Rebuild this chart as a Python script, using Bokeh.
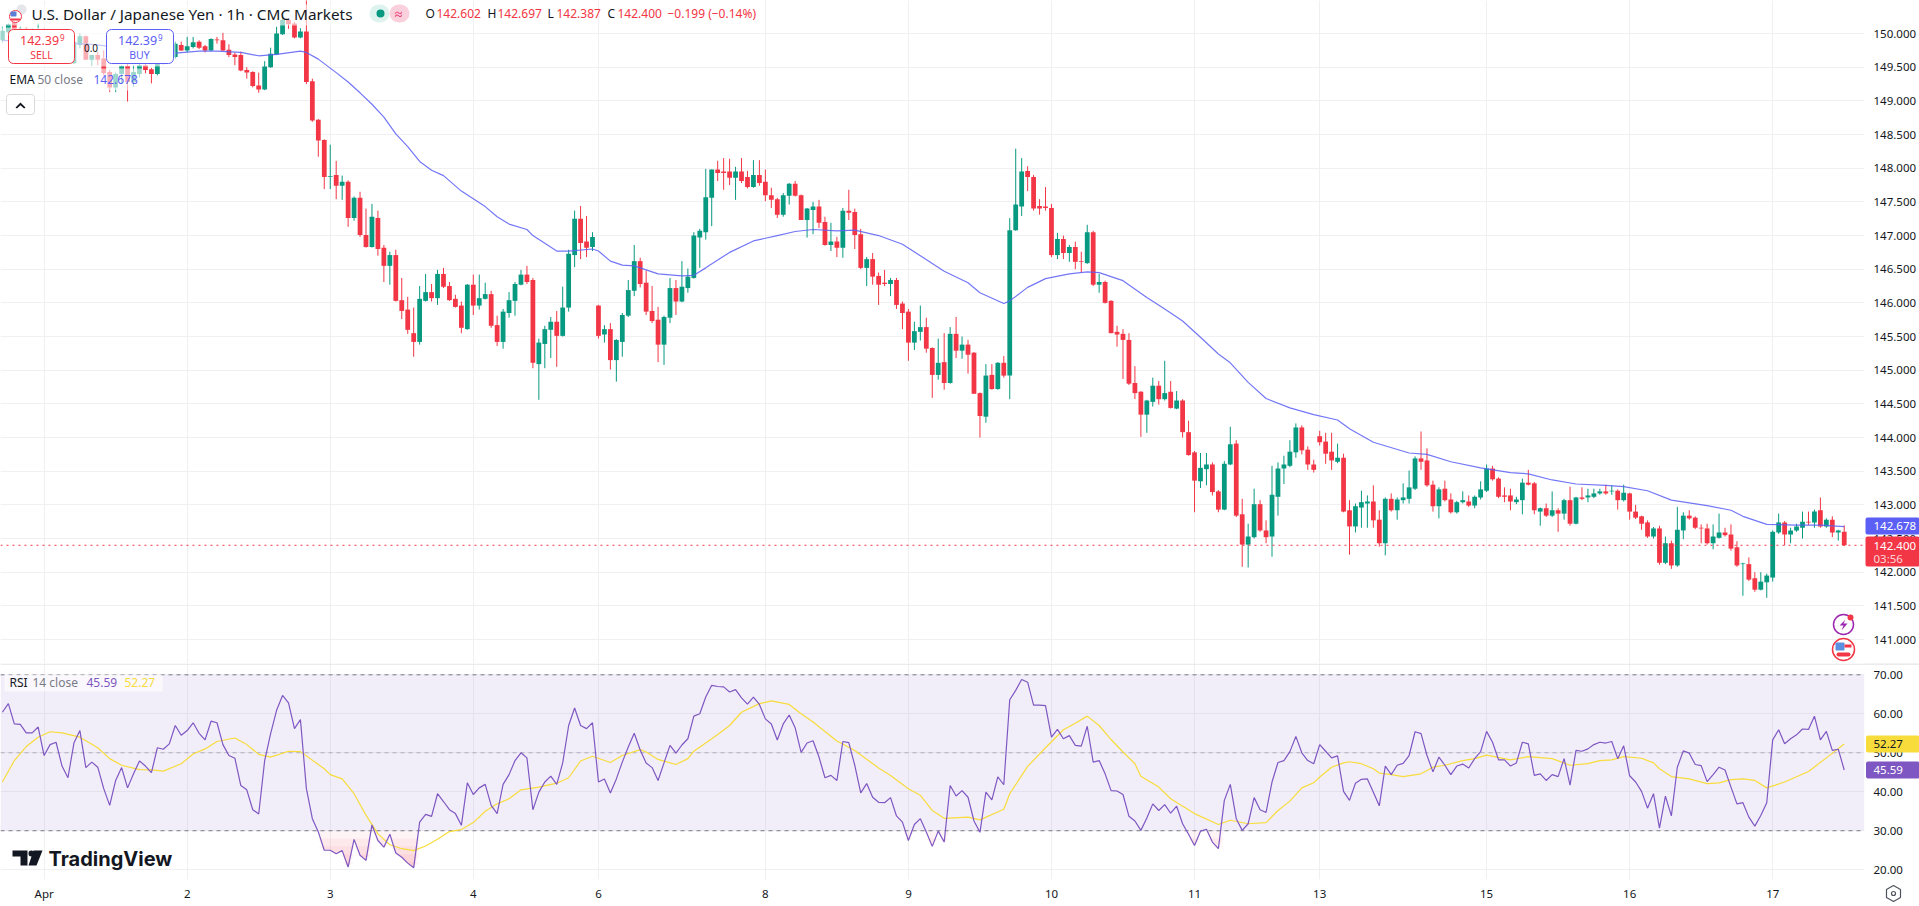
from bokeh.plotting import figure
from bokeh.layouts import column
from bokeh.models import Range1d, FixedTicker, Label, BoxAnnotation, PolyAnnotation, NumeralTickFormatter
from bokeh.embed import file_html
from bokeh.resources import INLINE
import numpy as np

opens = [
149.90,150.02,150.17,150.03,150.07,149.98,150.04,150.06,149.93,149.85,
149.92,149.78,149.56,149.83,149.96,149.61,149.68,149.63,149.43,149.20,
149.40,149.52,149.28,149.40,149.53,149.47,149.40,149.56,149.68,149.65,
149.83,149.75,149.80,149.88,149.81,149.75,149.91,149.90,149.76,149.69,
149.68,149.46,149.43,149.23,149.17,149.50,149.69,149.99,150.20,150.15,
149.94,150.03,149.29,148.72,148.42,147.87,147.90,147.74,147.80,147.26,
147.56,147.01,146.83,147.26,146.82,146.55,146.71,146.04,145.90,145.55,
145.42,146.03,146.16,146.07,146.43,146.25,146.06,145.96,145.61,146.27,
145.96,146.06,146.13,145.67,145.42,145.85,146.03,146.27,146.42,146.34,
145.09,145.39,145.60,145.72,145.51,145.93,146.71,147.25,146.91,146.83,
145.96,145.53,145.61,145.15,145.42,145.81,146.18,146.62,146.30,145.88,
145.75,145.38,145.78,146.22,146.02,146.22,146.37,146.97,147.05,147.56,
147.98,147.95,147.95,147.86,147.95,147.87,147.72,147.90,147.80,147.60,
147.54,147.31,147.59,147.77,147.60,147.23,147.38,147.43,147.20,146.86,
146.91,146.82,147.37,147.35,147.02,146.52,146.65,146.40,146.30,146.28,
146.34,145.99,145.87,145.41,145.57,145.64,145.33,144.93,145.12,144.81,
145.54,145.29,145.38,145.26,144.66,144.31,144.93,144.72,145.11,144.92,
147.08,147.43,147.96,147.87,147.44,147.43,147.41,146.71,146.95,146.74,
146.83,146.62,146.59,147.05,146.27,146.31,146.03,145.57,145.54,145.45,
144.81,144.68,144.34,144.53,144.77,144.57,144.68,144.43,144.55,144.08,
143.78,143.35,143.53,143.60,143.20,142.93,143.60,143.91,142.86,142.41,
142.52,143.01,142.62,142.53,143.12,143.54,143.58,143.78,144.15,143.82,
143.60,144.02,143.94,143.79,143.64,143.70,142.92,142.68,142.96,143.02,
143.05,142.78,142.43,143.09,142.92,143.07,143.09,143.24,143.69,143.66,
143.30,142.98,143.24,143.08,142.89,143.04,143.05,142.99,143.11,143.21,
143.54,143.39,143.14,143.14,143.04,143.07,143.33,143.32,142.90,142.95,
142.84,142.92,142.87,143.07,142.72,143.11,143.11,143.12,143.17,143.20,
143.20,143.21,143.07,143.17,142.90,142.83,142.74,142.53,142.65,142.14,
142.43,142.10,142.62,142.84,142.81,142.66,142.65,142.43,142.51,142.59,
142.56,142.37,142.12,142.12,141.91,141.74,141.85,141.92,142.59,142.74,
142.56,142.62,142.66,142.75,142.74,142.92,142.68,142.78,142.59,142.602]

highs = [
150.10,150.15,150.20,150.10,150.09,150.08,150.15,150.08,149.98,149.95,
149.96,149.84,149.90,150.00,149.97,149.68,149.73,149.75,149.46,149.42,
149.53,149.55,149.53,149.55,149.55,149.49,149.60,149.72,149.78,149.88,
149.88,149.95,149.95,149.90,149.83,149.93,149.95,150.01,149.84,149.72,
149.73,149.50,149.44,149.42,149.59,149.79,150.10,150.28,150.23,150.17,
150.08,150.50,149.33,148.73,148.43,148.35,148.11,147.89,147.82,147.58,
147.65,147.40,147.47,147.37,146.86,146.76,146.79,146.37,146.09,145.93,
146.25,146.43,146.28,146.49,146.52,146.31,146.12,146.02,146.28,146.42,
146.42,146.30,146.18,145.81,145.91,146.16,146.31,146.49,146.55,146.37,
145.47,145.66,145.79,145.88,146.24,146.79,147.37,147.44,147.29,147.05,
145.97,145.67,145.70,145.46,145.85,146.34,146.86,146.67,146.48,146.25,
145.94,145.81,146.37,146.34,146.62,146.51,147.05,147.10,147.99,147.98,
148.11,148.15,148.14,148.02,148.15,147.96,148.12,148.12,147.98,147.71,
147.56,147.63,147.78,147.81,147.61,147.41,147.50,147.53,147.28,147.19,
146.98,147.41,147.68,147.40,147.10,146.68,146.74,146.45,146.49,146.37,
146.37,146.02,145.91,145.72,145.96,145.78,145.34,145.47,145.55,145.64,
145.79,145.50,145.45,145.27,144.67,145.09,145.09,145.12,145.21,147.26,
148.29,148.15,148.03,147.90,147.54,147.72,147.47,147.04,147.00,146.86,
146.91,146.76,147.16,147.07,146.43,146.33,146.04,145.66,145.61,145.55,
145.06,144.69,144.56,144.89,144.84,145.14,144.84,144.69,144.57,144.25,
143.80,143.77,143.77,143.63,143.22,143.65,144.16,143.96,143.09,142.72,
143.24,143.07,142.77,143.58,143.63,143.73,143.96,144.21,144.18,143.87,
143.67,144.10,144.07,144.07,143.91,143.76,143.07,143.02,143.21,143.14,
143.29,142.92,143.11,143.17,143.11,143.32,143.51,143.72,144.09,143.84,
143.36,143.26,143.36,143.17,143.06,143.20,143.14,143.14,143.35,143.60,
143.58,143.41,143.26,143.24,143.12,143.39,143.52,143.34,142.96,143.02,
143.20,142.95,143.09,143.27,143.12,143.26,143.24,143.24,143.24,143.30,
143.29,143.23,143.30,143.18,143.00,142.84,142.77,142.67,142.69,142.53,
142.47,142.97,142.89,142.92,142.83,142.71,142.72,142.71,142.87,142.66,
142.71,142.46,142.14,142.22,142.00,142.00,141.98,142.62,142.87,142.76,
142.66,142.72,142.90,142.90,142.93,143.11,142.80,142.83,142.63,142.697]

lows = [
149.87,150.00,150.03,149.93,149.95,149.92,150.00,149.90,149.80,149.78,
149.74,149.62,149.55,149.78,149.61,149.52,149.53,149.38,149.13,149.13,
149.26,148.99,149.21,149.35,149.41,149.26,149.38,149.54,149.62,149.63,
149.74,149.72,149.78,149.77,149.72,149.74,149.85,149.74,149.65,149.53,
149.44,149.33,149.20,149.12,149.16,149.49,149.68,149.98,150.07,149.93,
149.93,149.25,148.69,148.17,147.69,147.69,147.54,147.53,147.13,147.22,
146.98,146.82,146.82,146.70,146.31,146.27,146.02,145.76,145.54,145.20,
145.38,146.02,146.02,145.97,146.22,146.03,145.93,145.55,145.60,145.82,
145.90,146.05,145.63,145.36,145.32,145.78,145.81,146.26,146.28,145.03,
144.56,145.03,145.18,145.05,145.50,145.87,146.53,146.65,146.68,146.77,
145.47,145.41,145.01,144.83,145.20,145.79,146.10,146.23,145.82,145.70,
145.12,145.08,145.70,145.82,146.01,146.15,146.36,146.52,146.94,147.14,
147.81,147.68,147.75,147.53,147.78,147.70,147.71,147.74,147.51,147.41,
147.26,147.28,147.46,147.58,147.23,146.97,147.02,147.11,146.85,146.77,
146.68,146.67,147.23,146.80,146.50,146.25,146.27,145.97,146.25,146.10,
145.91,145.61,145.14,145.30,145.44,145.26,144.59,144.86,144.71,144.80,
145.18,145.17,144.95,144.65,144.00,144.22,144.71,144.71,144.89,144.57,
147.07,147.29,147.66,147.37,147.31,147.37,146.68,146.65,146.65,146.61,
146.50,146.45,146.58,146.25,146.15,145.99,145.55,145.35,144.87,144.78,
144.57,144.01,144.07,144.46,144.49,144.55,144.43,144.42,144.00,143.73,
142.89,143.25,143.29,143.14,142.89,142.92,143.59,142.82,142.08,142.07,
142.50,142.60,142.43,142.23,142.84,143.31,143.56,143.70,143.75,143.52,
143.48,143.88,143.61,143.52,143.62,142.89,142.26,142.59,142.66,142.66,
142.66,142.38,142.25,142.90,142.78,143.02,143.02,143.22,143.52,143.27,
142.90,142.80,143.05,142.87,142.87,143.02,142.97,142.95,143.08,143.19,
143.36,143.10,143.04,142.92,143.01,142.86,143.29,142.86,142.69,142.82,
142.82,142.60,142.78,142.69,142.71,143.07,143.04,143.10,143.15,143.15,
143.15,142.93,143.05,142.78,142.79,142.63,142.51,142.50,142.11,142.12,
142.05,142.08,142.49,142.78,142.64,142.43,142.41,142.34,142.50,142.53,
142.32,142.08,141.65,141.87,141.71,141.73,141.62,141.86,142.57,142.40,
142.43,142.60,142.50,142.70,142.66,142.66,142.66,142.52,142.47,142.387]

closes = [
150.04,150.14,150.05,150.07,149.98,150.04,150.06,149.93,149.85,149.92,
149.78,149.66,149.88,149.96,149.61,149.68,149.61,149.41,149.20,149.40,
149.52,149.28,149.43,149.53,149.46,149.40,149.56,149.68,149.72,149.85,
149.75,149.81,149.87,149.79,149.75,149.92,149.90,149.75,149.68,149.65,
149.45,149.42,149.22,149.17,149.51,149.70,150.00,150.20,150.14,149.94,
150.03,149.28,148.71,148.41,147.87,147.88,147.74,147.80,147.26,147.56,
147.01,146.83,147.28,146.80,146.55,146.71,146.03,145.88,145.60,145.42,
146.06,146.16,146.07,146.43,146.24,146.04,145.94,145.63,146.27,145.96,
146.07,146.13,145.66,145.42,145.87,146.04,146.28,146.42,146.31,145.11,
145.41,145.61,145.72,145.51,145.93,146.73,147.25,146.89,146.82,146.98,
145.51,145.61,145.15,145.45,145.82,146.19,146.62,146.28,145.87,145.73,
145.38,145.79,146.22,146.02,146.24,146.39,147.00,147.07,147.57,147.98,
147.93,147.93,147.86,147.95,147.81,147.72,147.90,147.78,147.60,147.53,
147.31,147.60,147.77,147.59,147.23,147.40,147.43,147.19,146.86,146.91,
146.82,147.37,147.34,147.01,146.52,146.65,146.39,146.27,146.28,146.34,
145.97,145.85,145.41,145.58,145.64,145.32,144.93,145.11,144.81,145.54,
145.29,145.38,145.23,144.65,144.32,144.92,144.72,145.11,144.92,147.08,
147.46,147.95,147.87,147.40,147.40,147.41,146.71,146.95,146.74,146.83,
146.61,146.61,147.05,146.27,146.31,146.00,145.55,145.53,145.45,144.80,
144.66,144.34,144.55,144.77,144.57,144.66,144.44,144.55,144.08,143.74,
143.36,143.55,143.60,143.19,142.93,143.61,143.90,142.84,142.41,142.53,
143.01,142.62,142.52,143.15,143.54,143.60,143.79,144.15,143.81,143.60,
143.52,143.93,143.76,143.66,143.70,142.90,142.68,142.98,143.04,143.05,
142.77,142.43,143.09,142.92,143.08,143.11,143.26,143.69,143.64,143.29,
142.98,143.23,143.07,142.89,143.04,143.07,142.99,143.12,143.23,143.54,
143.38,143.12,143.12,143.05,143.08,143.33,143.30,142.92,142.95,142.84,
142.92,142.87,143.07,142.72,143.11,143.09,143.14,143.17,143.20,143.17,
143.21,143.07,143.18,142.90,142.81,142.72,142.53,142.65,142.14,142.43,
142.10,142.63,142.84,142.80,142.66,142.65,142.43,142.53,142.59,142.55,
142.35,142.10,142.13,141.89,141.74,141.86,141.95,142.60,142.74,142.56,
142.62,142.68,142.75,142.74,142.90,142.68,142.78,142.59,142.62,142.400]

ema_bars = [0,5,10,15,20,25,29,33,36,40,43,46,50,51,53,56,58,60,62,64,66,68,70,72,74,77,81,83,85,88,89,93,95,99,100,102,104,106,
            110,114,116,118,122,126,130,133,136,140,143,147,151,154,158,162,164,168,169,172,175,179,182,184,188,192,195,198,201,204,206,209,212,
            216,220,224,226,230,236,239,243,248,253,256,260,264,269,272,276,280,286,290,292,296,301,305,309]
ema_values = [149.90,149.88,149.86,149.84,149.79,149.74,149.71,149.74,149.74,149.72,149.67,149.69,149.74,149.72,149.62,149.42,149.28,149.12,148.95,148.76,148.51,148.32,148.10,147.97,147.89,147.66,147.43,147.28,147.17,147.09,147.00,146.77,146.77,146.80,146.77,146.62,146.56,146.55,
              146.43,146.40,146.41,146.52,146.75,146.92,147.00,147.06,147.09,147.07,147.08,147.00,146.87,146.70,146.47,146.30,146.15,145.99,146.03,146.23,146.36,146.43,146.46,146.45,146.33,146.08,145.91,145.73,145.49,145.24,145.11,144.82,144.58,
              144.44,144.34,144.26,144.13,143.93,143.77,143.75,143.64,143.55,143.48,143.46,143.37,143.31,143.29,143.27,143.21,143.07,142.99,142.92,142.83,142.71,142.70,142.70,142.678]

rsi_values = [
60.4,62.6,57.4,57.3,55.1,55.1,56.6,49.3,52.1,52.7,
46.6,43.6,52.5,55.7,46.2,47.6,46.3,40.8,36.5,42.9,
46.2,41.0,44.6,47.9,46.6,44.9,51.3,50.9,52.3,57.0,
54.5,55.7,57.7,55.0,53.3,58.1,57.7,52.1,49.3,48.6,
41.6,40.5,35.4,34.3,48.0,54.9,60.9,64.7,62.8,56.2,
58.5,40.8,33.1,29.7,25.0,25.0,24.1,24.9,20.7,27.8,
23.7,22.4,31.5,27.5,25.8,29.1,24.3,23.2,21.7,20.5,
32.2,34.2,33.7,39.5,37.5,35.4,34.4,31.4,42.3,39.3,
41.0,41.9,36.5,34.4,41.9,44.4,48.0,50.0,48.7,35.4,
39.9,42.5,44.0,41.9,47.4,57.0,61.5,57.0,56.2,57.7,
42.5,43.3,39.7,43.3,47.6,51.5,55.0,50.7,47.4,46.2,
42.9,47.4,51.9,49.9,52.0,53.6,59.4,60.0,64.3,67.3,
67.0,66.9,65.6,66.2,64.1,62.5,64.3,62.4,58.7,57.4,
53.3,57.4,59.7,56.4,50.1,52.5,53.1,48.9,43.6,44.2,
42.9,52.9,52.6,46.8,39.7,42.1,38.6,37.3,37.2,38.5,
33.8,32.2,27.5,31.6,33.1,29.7,26.0,29.9,27.1,41.6,
38.9,40.3,38.6,32.5,29.6,39.9,37.9,43.8,41.8,63.6,
66.0,68.8,68.1,62.2,62.2,62.1,54.0,56.0,53.6,54.4,
51.9,51.7,56.8,47.6,48.0,44.6,40.3,40.2,39.3,33.7,
32.5,30.1,33.3,36.9,35.2,36.7,34.5,36.3,31.8,29.1,
26.2,29.9,30.4,27.1,25.4,37.8,41.9,33.1,30.1,31.8,
38.5,35.4,34.7,42.5,47.5,48.0,50.3,54.2,50.0,48.0,
47.2,52.1,50.4,48.7,49.2,40.1,37.8,42.2,43.2,43.3,
39.9,36.4,46.6,44.4,46.8,47.3,49.3,55.4,54.9,49.3,
45.1,48.9,46.8,44.4,46.6,47.1,46.1,48.5,50.3,55.5,
52.7,48.2,48.2,46.6,47.4,52.7,52.3,44.2,44.6,42.9,
44.4,43.9,48.5,41.7,50.6,50.4,51.0,52.1,52.7,52.5,
52.9,48.5,51.8,44.1,42.5,40.1,35.8,39.5,30.7,38.9,
33.8,46.3,50.5,49.9,47.0,46.7,42.6,44.4,46.3,45.6,
41.2,36.9,37.2,33.5,31.2,33.9,37.2,53.3,55.9,52.3,
53.6,54.6,56.1,56.0,59.4,53.3,55.5,50.6,50.9,45.59]

sma_bars = [0,2,4,6,8,10,13,16,18,20,23,25,27,30,32,34,36,39,41,43,45,48,50,54,55,57,59,61,63,65,67,69,71,73,75,77,79,81,83,85,87,90,93,95,97,99,102,104,107,
            108,110,113,115,116,119,120,122,124,127,129,132,134,136,140,143,147,149,152,154,156,158,162,164,168,169,172,175,178,180,182,184,186,188,190,191,194,196,200,204,206,209,212,214,
            216,218,220,221,223,225,226,228,230,231,233,235,238,240,242,245,247,249,253,256,260,263,266,268,270,272,275,277,278,280,283,286,288,290,292,294,296,299,303,306,309]
sma_values = [42.5,48.0,51.6,54.0,55.4,55.1,54.0,51.3,48.5,46.8,45.7,45.6,45.3,47.2,49.7,51.0,52.9,53.8,52.1,49.6,48.9,50.4,50.3,45.9,44.4,43.3,39.5,34.0,29.2,26.4,25.4,24.9,26.1,27.8,29.8,30.3,32.1,35.0,36.9,38.2,40.5,41.2,42.2,43.6,47.9,49.1,47.5,49.3,50.8,
              50.2,48.3,47.0,48.5,50.4,53.6,54.7,57.0,60.4,62.6,63.3,62.4,60.0,57.9,53.0,50.6,46.1,44.2,40.8,39.1,35.2,33.2,33.5,32.8,35.5,39.5,46.5,51.3,55.9,57.6,59.4,57.0,53.4,50.2,47.2,44.0,41.2,38.2,34.4,31.6,32.7,31.8,32.1,35.2,
              37.6,41.0,42.3,43.8,46.3,47.4,47.7,47.2,45.9,44.8,44.4,43.9,44.6,46.3,46.8,48.0,48.5,49.4,48.2,49.0,48.5,46.8,47.2,48.0,48.2,49.0,48.6,47.4,45.9,43.9,43.3,42.1,42.3,43.1,43.3,42.9,41.0,42.5,45.2,48.7,52.27]

day_ticks = [7,31,55,79,100,128,152,176,200,221,249,273,297]
day_labels = ["Apr","2","3","4","6","8","9","10","11","13","15","16","17"]
price_ticks = [141.0,141.5,142.0,142.5,143.0,143.5,144.0,144.5,145.0,145.5,146.0,146.5,147.0,147.5,148.0,148.5,149.0,149.5,150.0,150.5]
rsi_ticks = [20,30,40,50,60,70]

W, H1, H2, RIGHT, BOTTOM = 1919, 663, 243, 55, 27
UP, DOWN, BLUE, PURPLE, YELLOW, INK = "#089981", "#f23645", "#5b5ff5", "#7e57c2", "#f7dc3c", "#131722"
GRID = "#f0f0f2"
FONT = "Noto Sans"
LEVEL = "annotation"

x_range = Range1d(-0.319, 312.4)
y1a, y1b = 150.491, 140.644
y2a, y2b = 72.9, 17.5


def base(height, ylo, yhi, ticks, fmt, bottom):
    f = figure(width=W, height=height, frame_width=W - RIGHT, frame_height=height - bottom,
               x_range=x_range, y_range=Range1d(ylo, yhi), tools="",
               toolbar_location=None, output_backend="svg", y_axis_location="right",
               min_border_left=0, min_border_right=RIGHT, min_border_top=0, min_border_bottom=bottom,
               background_fill_color="white", border_fill_color="white")
    f.outline_line_color = None
    f.xgrid.ticker = FixedTicker(ticks=day_ticks)
    f.xgrid.grid_line_color = GRID
    f.ygrid.ticker = FixedTicker(ticks=ticks)
    f.ygrid.grid_line_color = GRID
    ax = f.yaxis[0]
    ax.ticker = FixedTicker(ticks=ticks)
    ax.formatter = NumeralTickFormatter(format=fmt)
    ax.axis_line_color = None
    ax.major_tick_line_color = None
    ax.major_tick_in = 0
    ax.major_tick_out = 0
    ax.minor_tick_line_color = None
    ax.major_label_text_font = FONT
    ax.major_label_text_font_size = "11.5px"
    ax.major_label_text_color = INK
    ax.major_label_standoff = 9
    return f


# Overlay furniture is placed in page pixels; (dx, dy) is the figure's corner on the page.
def box(f, dy, l, t, r, b, fill=None, alpha=1.0, line=None, lw=1, radius=0, dx=0):
    a = BoxAnnotation(left=l - dx, right=r - dx, top=t - dy, bottom=b - dy,
                      left_units="canvas", right_units="canvas", top_units="canvas", bottom_units="canvas",
                      fill_color=fill, fill_alpha=alpha if fill else 0,
                      line_color=line, line_width=lw, line_alpha=1 if line else 0, border_radius=radius, level=LEVEL)
    f.add_layout(a)


def txt(f, dy, px, py, s, color=INK, size=12, align="left", bold=False, alpha=1.0, font=FONT, dx=0):
    f.add_layout(Label(x=px - dx, y=py - dy, x_units="canvas", y_units="canvas", text=s, text_color=color,
                       text_font_size=f"{size}px", text_font=font,
                       text_align=align, text_baseline="middle", text_alpha=alpha,
                       text_font_style="bold" if bold else "normal", level=LEVEL))


def poly(f, dy, pts, fill=None, line=None, lw=1, dx=0):
    f.add_layout(PolyAnnotation(xs=[p[0] - dx for p in pts], ys=[p[1] - dy for p in pts], xs_units="canvas", ys_units="canvas",
                                fill_color=fill, fill_alpha=1 if fill else 0, line_color=line, line_width=lw,
                                line_alpha=1 if line else 0, level=LEVEL))


# ---------- price pane ----------
p1 = base(H1, y1b, y1a, price_ticks, "0.000", 0)
p1.xaxis.visible = False
bars = np.arange(len(closes))
o, h, l, c = map(np.array, (opens, highs, lows, closes))
colors = [UP if ci >= oi else DOWN for oi, ci in zip(o, c)]
p1.segment(bars, h, bars, l, color=colors, line_width=1)
p1.vbar(bars, width=0.8, top=np.maximum(o, c), bottom=np.minimum(o, c), fill_color=colors, line_color=None)
p1.line(ema_bars, ema_values, line_color=BLUE, line_width=1.2, line_alpha=0.85)
p1.line([x_range.start, x_range.end], [closes[-1], closes[-1]], line_color=DOWN, line_dash="dotted", line_width=1)

# veil behind the legend rows
box(p1, 0, 0, 4, 365, 25, fill="white", alpha=0.6)
box(p1, 0, 0, 27, 175, 66, fill="white", alpha=0.6)
box(p1, 0, 4, 68, 142, 90, fill="white", alpha=0.6)

# header
box(p1, 0, 16, 4, 26, 14, fill="#e4e6ea", radius=5)
box(p1, 0, 9, 10, 21, 22, fill="white", line="#f23645", radius=6)
box(p1, 0, 10, 11, 16, 16, fill="#5b7fd6", radius=1)
box(p1, 0, 10, 18, 20, 20, fill="#f23645", radius=1)
txt(p1, 0, 31, 13, "U.S. Dollar / Japanese Yen · 1h · CMC Markets", size=15.3)
box(p1, 0, 369, 4, 389, 22, fill="#dff3ee", radius=9)
box(p1, 0, 389, 4, 409, 22, fill="#f9d0dc", radius=9)
box(p1, 0, 376, 9, 384, 17, fill=UP, radius=4)
txt(p1, 0, 398, 13, "≈", color="#e91e63", size=14, align="center")
for px, s, col in [(425, "O", INK), (436, "142.602", DOWN), (487, "H", INK), (497, "142.697", DOWN),
                   (547, "L", INK), (556, "142.387", DOWN), (607, "C", INK), (617, "142.400", DOWN),
                   (667, "−0.199 (−0.14%)", DOWN)]:
    txt(p1, 0, px, 13, s, color=col, size=12)

# sell / buy
box(p1, 0, 8, 29, 74, 63, fill="white", line=DOWN, radius=5)
box(p1, 0, 106, 29, 173, 63, fill="white", line=BLUE, radius=5)
txt(p1, 0, 19.5, 39.5, "142.39", color=DOWN, size=12.5)
txt(p1, 0, 59.5, 37, "9", color=DOWN, size=8)
txt(p1, 0, 41, 54, "SELL", color=DOWN, size=10.5, align="center")
txt(p1, 0, 117.5, 39.5, "142.39", color=BLUE, size=12.5)
txt(p1, 0, 157.5, 37, "9", color=BLUE, size=8)
txt(p1, 0, 139, 54, "BUY", color=BLUE, size=10.5, align="center")
txt(p1, 0, 90.5, 47, "0.0", size=10, align="center")

# EMA legend
txt(p1, 0, 9, 79, "EMA", size=12)
txt(p1, 0, 37, 79, "50 close", color="#787b86", size=12)
txt(p1, 0, 93, 79, "142.678", color=BLUE, size=12)
box(p1, 0, 6, 94, 34, 114, fill="white", line="#d8d9dc", radius=3)
poly(p1, 0, [(20, 102), (25, 107), (23.6, 108), (20, 104.8), (16.4, 108), (15, 107)], fill=INK)

# side icons
box(p1, 0, 1833, 614, 1853, 634, fill="white", line="#9c27b0", lw=1.5, radius=10)
poly(p1, 0, [(1845, 619), (1839, 625), (1843, 625), (1841, 630), (1847, 623), (1843, 623)], fill="#9c27b0")
box(p1, 0, 1847, 614, 1853, 620, fill=DOWN, radius=3)
box(p1, 0, 1832, 638, 1854, 660, fill="white", line=DOWN, lw=1.5, radius=11)
box(p1, 0, 1835, 642, 1844, 650, fill="#5b8fe0", radius=1)
box(p1, 0, 1844, 644, 1851, 647, fill=DOWN)
box(p1, 0, 1836, 652, 1850, 656, fill=DOWN, radius=2)

# ---------- RSI pane ----------
p2 = base(H2, y2b, y2a, rsi_ticks, "0.00", BOTTOM)
x2 = p2.xaxis[0]
x2.ticker = FixedTicker(ticks=day_ticks)
x2.major_label_overrides = {t: s for t, s in zip(day_ticks, day_labels)}
x2.axis_line_color = None
x2.major_tick_line_color = GRID
x2.major_tick_in = 0
x2.major_tick_out = 0
x2.minor_tick_line_color = None
x2.major_label_text_font = FONT
x2.major_label_text_font_size = "11.5px"
x2.major_label_text_color = INK
x2.major_label_standoff = 6

rsi = np.array(rsi_values)
p2.varea(x=[x_range.start, x_range.end], y1=[30, 30], y2=[70, 70], fill_color=PURPLE, fill_alpha=0.1)
for th in (30, 28, 26, 24, 22):
    p2.varea(x=bars, y1=np.minimum(rsi, th), y2=th, fill_color=DOWN, fill_alpha=0.055)
for lv, a in ((70, 1), (50, 0.5), (30, 1)):
    p2.line([x_range.start, x_range.end], [lv, lv], line_color="#787b86", line_dash=[4, 4], line_width=1, line_alpha=a)
p2.line(sma_bars, sma_values, line_color=YELLOW, line_width=1.2)
p2.line(bars, rsi, line_color=PURPLE, line_width=1.2)

box(p2, H1, 0, 663, W, 664.3, fill="#e4e5e8")
box(p2, H1, 4, 674, 162, 691, fill="white", alpha=0.6)
txt(p2, H1, 9, 682, "RSI", size=12)
txt(p2, H1, 32, 682, "14 close", color="#787b86", size=12)
txt(p2, H1, 86, 682, "45.59", color=PURPLE, size=12)
txt(p2, H1, 124, 682, "52.27", color=YELLOW, size=12)

# TradingView logo
poly(p2, H1, [(12, 850), (27, 850), (27, 865), (20, 865), (20, 856), (12, 856)], fill=INK)
box(p2, H1, 28, 850, 33.5, 856, fill=INK, radius=3)
poly(p2, H1, [(33, 850), (42, 850), (36, 865), (28, 865)], fill=INK)
txt(p2, H1, 48, 858, "TradingView", color=INK, size=20, bold=True, font="Inter")

# ---------- transparent strip over the price scale, for the tags ----------
SX = W - RIGHT
strip = figure(width=RIGHT, height=H1 + H2, x_range=Range1d(0, RIGHT), y_range=Range1d(0, H1 + H2), tools="",
               toolbar_location=None, output_backend="svg", min_border=0, background_fill_color=None,
               border_fill_color=None, outline_line_color=None,
               styles={"position": "absolute", "left": f"{SX}px", "top": "0px"})
strip.axis.visible = False
strip.grid.visible = False
box(strip, 0, SX, 663, W, 664.3, fill="#e4e5e8", dx=SX)
box(strip, 0, SX + 1, 517, W, 534, fill=BLUE, radius=2, dx=SX)
txt(strip, 0, 1873, 525.5, "142.678", color="white", size=11.5, dx=SX)
box(strip, 0, SX + 1, 536, W, 566, fill=DOWN, radius=2, dx=SX)
txt(strip, 0, 1873, 545, "142.400", color="white", size=11.5, dx=SX)
txt(strip, 0, 1873, 558, "03:56", color="white", size=11.5, alpha=0.8, dx=SX)
box(strip, 0, SX + 1.5, 735, W, 752, fill=YELLOW, radius=2, dx=SX)
txt(strip, 0, 1873, 743.5, "52.27", color=INK, size=11.5, dx=SX)
box(strip, 0, SX + 1.5, 761, W, 778, fill=PURPLE, radius=2, dx=SX)
txt(strip, 0, 1873, 769.5, "45.59", color="white", size=11.5, dx=SX)
poly(strip, 0, [(1893, 885), (1900, 889), (1900, 897), (1893, 901), (1886, 897), (1886, 889)], line="#50535e", lw=1.2, dx=SX)
box(strip, 0, 1891, 891, 1895, 895, line="#50535e", lw=1.2, radius=2, dx=SX)

page = column(p1, p2, spacing=0, styles={"position": "absolute", "left": "0px", "top": "0px"})
open("out.html", "w").write(file_html([page, strip], INLINE))
